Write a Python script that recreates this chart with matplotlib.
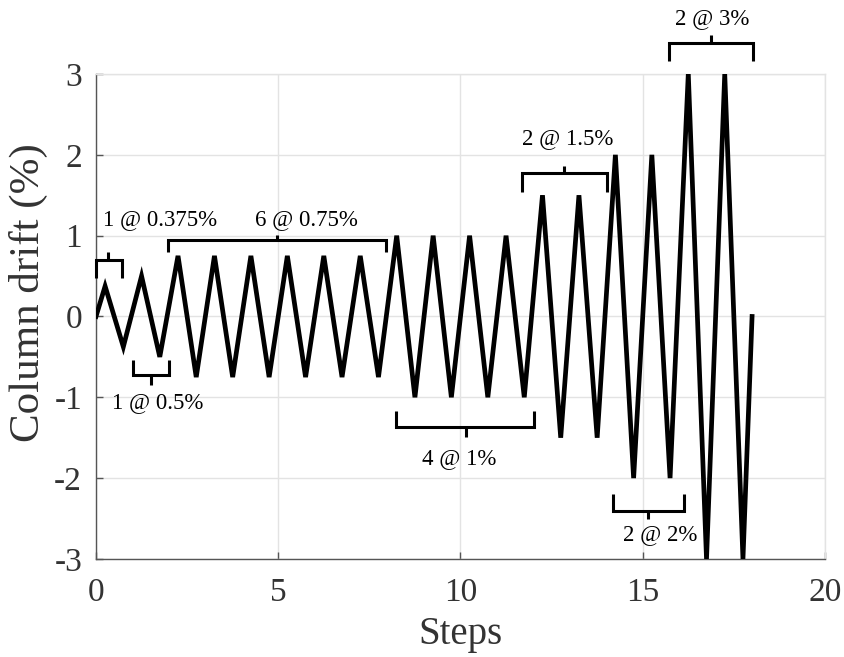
import matplotlib
matplotlib.use("Agg")
import matplotlib.pyplot as plt

plt.rcParams['font.family'] = ['Liberation Serif', 'DejaVu Serif']
plt.rcParams['axes.unicode_minus'] = False

# Loading protocol: step positions and column drift (%)
steps = [0, 0.25, 0.75, 1.25, 1.75,
         2.25, 2.75, 3.25, 3.75, 4.25, 4.75, 5.25, 5.75, 6.25, 6.75, 7.25, 7.75,
         8.25, 8.75, 9.25, 9.75, 10.25, 10.75, 11.25, 11.75,
         12.25, 12.75, 13.25, 13.75,
         14.25, 14.75, 15.25, 15.75,
         16.25, 16.75, 17.25, 17.75, 18]
drift = [0, 0.375, -0.375, 0.5, -0.5,
         0.75, -0.75, 0.75, -0.75, 0.75, -0.75, 0.75, -0.75, 0.75, -0.75, 0.75, -0.75,
         1, -1, 1, -1, 1, -1, 1, -1,
         1.5, -1.5, 1.5, -1.5,
         2, -2, 2, -2,
         3, -3, 3, -3, 0]

# Bracket annotations
labels = ["1 @ 0.375%", "6 @ 0.75%", "1 @ 0.5%", "4 @ 1%", "2 @ 1.5%", "2 @ 2%", "2 @ 3%"]
br_x0 = [0.0, 1.98, 1.02, 8.22, 11.70, 14.18, 15.71]
br_x1 = [0.71, 7.95, 1.99, 12.03, 14.01, 16.13, 18.02]
br_bar = [0.70, 0.95, -0.73, -1.37, 1.78, -2.41, 3.38]
br_leg = [0.48, 0.80, -0.54, -1.17, 1.54, -2.19, 3.16]
br_tick_x = [0.33, 4.97, 1.51, 10.14, 12.83, 15.14, 16.87]
br_tick_end = [0.80, 1.01, -0.85, -1.49, 1.86, -2.51, 3.48]
txt_x = [1.76, 5.77, 1.70, 9.97, 12.94, 15.47, 16.90]
txt_y = [1.20, 1.20, -1.06, -1.76, 2.20, -2.70, 3.68]

fig = plt.figure(figsize=(8.45, 6.57), dpi=100)
ax = fig.add_axes([0.1136, 0.1492, 0.9763 - 0.1136, 0.8874 - 0.1492])

ax.plot(steps, drift, color='black', lw=3.4, solid_joinstyle='miter', zorder=3)

for lab, x0, x1, yb, yl, tx, te, xt, yt in zip(labels, br_x0, br_x1, br_bar, br_leg,
                                              br_tick_x, br_tick_end, txt_x, txt_y):
    ax.plot([x0, x0, x1, x1], [yl, yb, yb, yl], color='black', lw=2.2,
            solid_joinstyle='miter', solid_capstyle='butt', clip_on=False, zorder=4)
    ax.plot([tx, tx], [yb, te], color='black', lw=2.2, solid_capstyle='butt',
            clip_on=False, zorder=4)
    ax.text(xt, yt, lab, fontsize=16.5, ha='center', va='center', zorder=5)

ax.set_xlim(0, 20)
ax.set_ylim(-3, 3)
ax.set_xticks([0, 5, 10, 15, 20])
ax.set_yticks([-3, -2, -1, 0, 1, 2, 3])
ax.grid(True, color='#e3e3e3', lw=1.0)
ax.set_axisbelow(True)

for s in ['left', 'bottom']:
    ax.spines[s].set_color('#555555')
    ax.spines[s].set_linewidth(1.0)
for s in ['top', 'right']:
    ax.spines[s].set_color('#e3e3e3')
    ax.spines[s].set_linewidth(1.0)

ax.tick_params(axis='both', direction='in', length=5, width=1.0, color='#555555',
               labelsize=24, labelcolor='#333333')
ax.tick_params(axis='x', pad=13)
ax.tick_params(axis='y', pad=10)

ax.set_xlabel('Steps', fontsize=28, color='#333333', labelpad=6)
ax.set_ylabel('Column drift (%)', fontsize=31, color='#333333')
ax.yaxis.set_label_coords(-0.066, 0.55)

fig.savefig('out.png', dpi=100)
